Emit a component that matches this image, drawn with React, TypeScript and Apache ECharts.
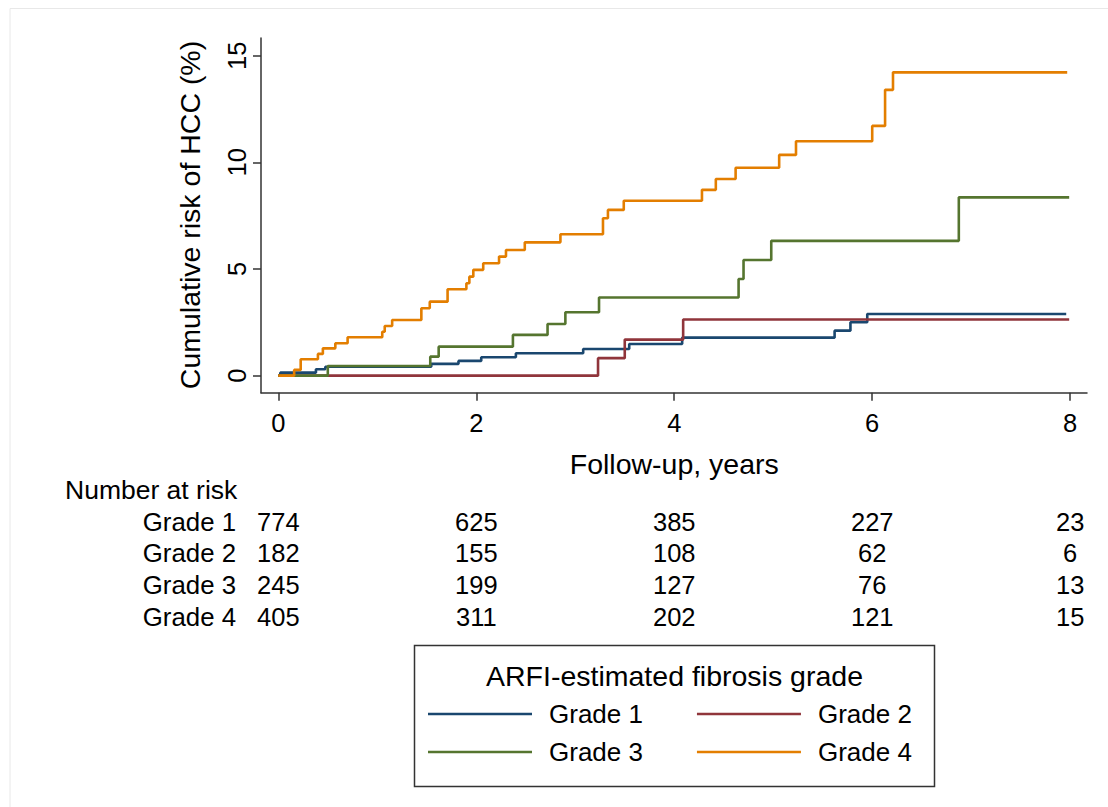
import React, { useEffect, useRef } from "react";
import * as echarts from "echarts";

const FONT = "'Liberation Sans', Arial, Helvetica, sans-serif";

const grades = ["Grade 1", "Grade 2", "Grade 3", "Grade 4"];
const colors = ["#1a476f", "#90353b", "#55752f", "#e37e00"];

// Kaplan-Meier style cumulative risk (%) step data
const g1Times = [0, 0.02, 0.38, 0.475, 1.545, 1.82, 2.05, 2.4, 3.08, 3.545, 4.08, 5.62, 5.78, 5.95, 7.96];
const g1Risk = [0, 0.14, 0.3, 0.42, 0.55, 0.69, 0.86, 1.05, 1.25, 1.48, 1.78, 2.11, 2.5, 2.89, 2.89];

const g2Times = [0, 3.23, 3.5, 4.09, 7.99];
const g2Risk = [0, 0.82, 1.69, 2.63, 2.63];

const g3Times = [0, 0.5, 1.535, 1.62, 2.37, 2.72, 2.9, 3.24, 4.65, 4.7, 4.98, 6.875, 7.99];
const g3Risk = [0, 0.45, 0.89, 1.36, 1.91, 2.42, 2.97, 3.66, 4.53, 5.42, 6.32, 8.36, 8.36];

const g4Times = [0, 0.16, 0.226, 0.4, 0.45, 0.576, 0.7, 1.05, 1.075, 1.15, 1.445, 1.53, 1.71, 1.9, 1.93, 1.97, 2.07, 2.23, 2.3, 2.49, 2.85, 3.28, 3.33, 3.49, 4.28, 4.42, 4.62, 5.06, 5.23, 6.0, 6.13, 6.21, 7.97];
const g4Risk = [0, 0.27, 0.77, 1.02, 1.28, 1.52, 1.8, 2.06, 2.33, 2.61, 3.16, 3.47, 4.05, 4.33, 4.64, 4.96, 5.27, 5.58, 5.89, 6.25, 6.63, 7.38, 7.77, 8.2, 8.71, 9.22, 9.75, 10.35, 10.99, 11.71, 13.4, 14.22, 14.22];

const xTicks = [0, 2, 4, 6, 8];
const yTicks = [0, 5, 10, 15];

// Number at risk table
const riskTimes = [0, 2, 4, 6, 8];
const atRisk1 = [774, 625, 385, 227, 23];
const atRisk2 = [182, 155, 108, 62, 6];
const atRisk3 = [245, 199, 127, 76, 13];
const atRisk4 = [405, 311, 202, 121, 15];

const allTimes = [g1Times, g2Times, g3Times, g4Times];
const allRisk = [g1Risk, g2Risk, g3Risk, g4Risk];
const allAtRisk = [atRisk1, atRisk2, atRisk3, atRisk4];

export default function App() {
  const ref = useRef<HTMLDivElement>(null);

  useEffect(() => {
    document.body.style.margin = "0";
    if (!ref.current) return;
    const chart = echarts.init(ref.current, undefined, { renderer: "svg" });

    const series = grades.map((name, i) => ({
      name,
      type: "line",
      step: "end",
      data: allTimes[i].map((t, k) => [t, allRisk[i][k]]),
      symbol: "none",
      showSymbol: false,
      lineStyle: { width: 2.6, color: colors[i] },
      itemStyle: { color: colors[i] },
      z: 2 + i,
    }));

    const legendBase = {
      left: 428,
      orient: "horizontal",
      icon: "rect",
      itemWidth: 104,
      itemHeight: 2.5,
      itemGap: 54,
      padding: 0,
      selectedMode: false,
      textStyle: { fontSize: 26, color: "#000", fontFamily: FONT, padding: [0, 0, 0, 12] },
    };

    chart.setOption({
      animation: false,
      backgroundColor: "#fff",
      color: colors,
      grid: { left: 261, top: 38, width: 826, height: 354.7, containLabel: false },
      xAxis: {
        type: "value",
        min: -0.175,
        max: 8.17,
        axisLine: { show: true, onZero: false, lineStyle: { color: "#333", width: 1.5 } },
        axisTick: { show: true, customValues: xTicks, length: 8, lineStyle: { color: "#333", width: 1.5 } },
        axisLabel: { customValues: xTicks, fontSize: 25.5, color: "#000", margin: 17, fontFamily: FONT },
        splitLine: { show: false },
      },
      yAxis: {
        type: "value",
        min: -0.8,
        max: 15.83,
        axisLine: { show: true, onZero: false, lineStyle: { color: "#333", width: 1.5 } },
        axisTick: { show: true, customValues: yTicks, length: 8, lineStyle: { color: "#333", width: 1.5 } },
        axisLabel: { customValues: yTicks, fontSize: 25.5, color: "#000", margin: 11, rotate: 90, fontFamily: FONT },
        splitLine: { show: false },
      },
      legend: [
        { ...legendBase, top: 701, data: ["Grade 1", "Grade 2"] },
        { ...legendBase, top: 739, data: ["Grade 3", "Grade 4"] },
      ],
      series,
    });

    const txt = (text: string, x: number, y: number, align: string, size: number, extra: any = {}) => ({
      type: "text",
      x,
      y,
      ...extra,
      style: { text, align, verticalAlign: "middle", fontSize: size, fontFamily: FONT, fill: "#000" },
      z: 10,
    });

    const graphics: any[] = [];
    // faint outer frame of the figure
    graphics.push({
      type: "polyline",
      shape: { points: [[10, 807], [10, 8.5], [1108, 8.5]] },
      style: { stroke: "#e8e8e8", lineWidth: 1, fill: "none" },
      z: 0,
    });
    graphics.push(txt("Cumulative risk of HCC (%)", 190, 215, "center", 28.5, { rotation: Math.PI / 2 }));
    const xMid = (chart.convertToPixel({ xAxisIndex: 0 }, 0) + chart.convertToPixel({ xAxisIndex: 0 }, 8)) / 2;
    graphics.push(txt("Follow-up, years", xMid, 464, "center", 28.5));
    graphics.push(txt("Number at risk", 65, 490, "left", 26.5));
    const rowY = [521.5, 553, 585, 616.5];
    grades.forEach((g, i) => {
      graphics.push(txt(g, 236, rowY[i], "right", 25.8));
      riskTimes.forEach((t, k) => {
        const px = chart.convertToPixel({ xAxisIndex: 0 }, t);
        graphics.push(txt(String(allAtRisk[i][k]), px, rowY[i], "center", 25.5));
      });
    });
    graphics.push({
      type: "rect",
      shape: { x: 414.5, y: 645.5, width: 520, height: 141 },
      style: { fill: "none", stroke: "#333", lineWidth: 1.5 },
      z: 1,
    });
    graphics.push(txt("ARFI-estimated fibrosis grade", 674.5, 676, "center", 28.5));

    chart.setOption({ graphic: graphics });

    return () => {
      chart.dispose();
    };
  }, []);

  return <div ref={ref} style={{ width: 1108, height: 807 }} />;
}
